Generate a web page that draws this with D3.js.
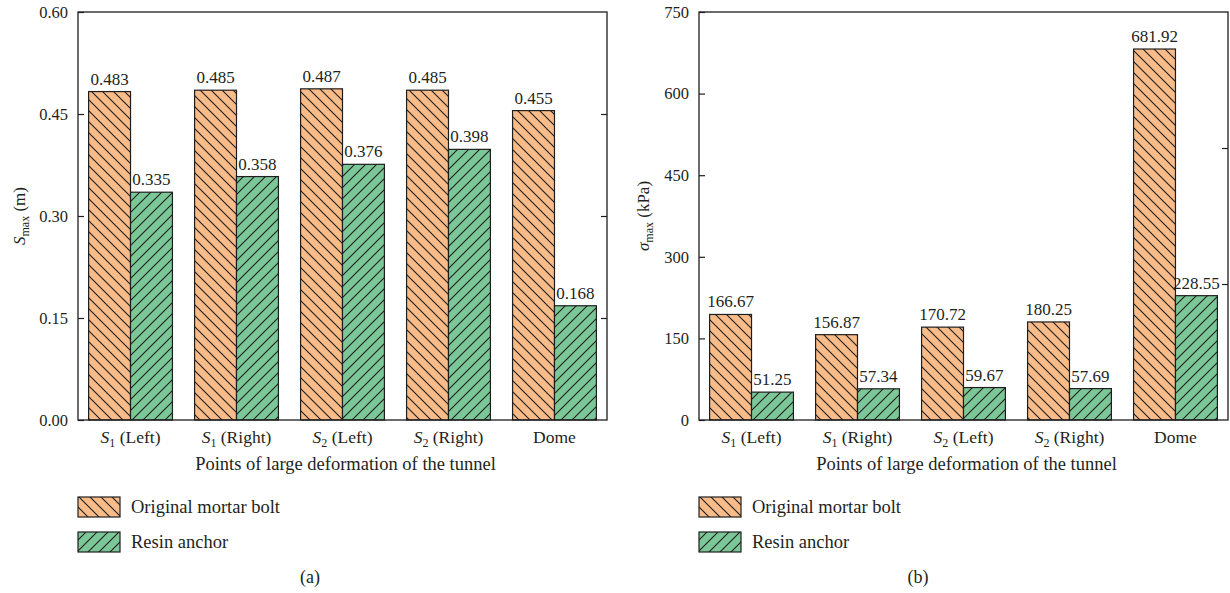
<!DOCTYPE html>
<html>
<head>
<meta charset="utf-8">
<script src="https://cdn.jsdelivr.net/npm/d3@7"></script>
<style>
body { margin: 0; background: #fff; }
text { font-family: "Liberation Serif", "DejaVu Serif", serif; fill: #231f20; }
</style>
</head>
<body>
<div id="chart"></div>
<script>
var categories = ["S1 (Left)", "S1 (Right)", "S2 (Left)", "S2 (Right)", "Dome"];
var seriesNames = ["Original mortar bolt", "Resin anchor"];

// (a) max displacement, m
var dispOriginal = [0.483, 0.485, 0.487, 0.485, 0.455];
var dispResin = [0.335, 0.358, 0.376, 0.398, 0.168];
var dispTicks = [0, 0.15, 0.30, 0.45, 0.60];
var dispRightTicks = [0.15, 0.30, 0.45];

// (b) max stress, kPa (first orange bar is drawn taller than its label says)
var stressOriginal = [194, 156.87, 170.72, 180.25, 681.92];
var stressResin = [51.25, 57.34, 59.67, 57.69, 228.55];
var stressOriginalLabels = ["166.67", "156.87", "170.72", "180.25", "681.92"];
var stressResinLabels = ["51.25", "57.34", "59.67", "57.69", "228.55"];
var stressTicks = [0, 150, 300, 450, 600, 750];
var stressRightTicks = [1, 2];   // mirrored axis split in thirds

var svgWidth = 1230;
var svgHeight = 593;
var width = 529;
var height = 408;
var colors = ["#f9bb88", "#7cc797"];

var svg = d3.select("#chart")
    .append("svg")
    .attr("width", svgWidth)
    .attr("height", svgHeight);

// hatch patterns
var defs = svg.append("defs");
var hatchPaths = ["M-3,-3 L14,14 M-3,8 L3,14 M8,-3 L14,3", "M-3,14 L14,-3 M-3,3 L3,-3 M8,14 L14,8"];
seriesNames.forEach(function (s, i) {
    var p = defs.append("pattern")
        .attr("id", "hatch" + i)
        .attr("patternUnits", "userSpaceOnUse")
        .attr("width", 11)
        .attr("height", 11);
    p.append("rect").attr("width", 11).attr("height", 11).attr("fill", colors[i]);
    p.append("path").attr("d", hatchPaths[i])
        .attr("stroke", "#1e1e1e").attr("stroke-width", 1.1).attr("fill", "none");
});

function drawPanel(opt) {
    var g = svg.append("g")
        .attr("transform", `translate(${opt.left}, 12)`);

    var x0 = d3.scaleBand()
        .domain(categories)
        .range([0, width])
        .paddingInner(0.209)
        .paddingOuter(0.1);
    var x1 = d3.scaleBand()
        .domain(seriesNames)
        .range([0, x0.bandwidth()]);
    var y = d3.scaleLinear()
        .domain(d3.extent(opt.ticks))
        .range([height, 0]);

    // bars
    [opt.original, opt.resin].forEach(function (vals, si) {
        var labels = opt.labels[si];
        var grp = g.append("g");
        grp.selectAll("rect")
            .data(vals)
            .enter()
            .append("rect")
            .attr("x", (d, i) => x0(categories[i]) + x1(seriesNames[si]))
            .attr("y", d => y(d))
            .attr("width", x1.bandwidth())
            .attr("height", d => height - y(d))
            .attr("fill", `url(#hatch${si})`)
            .attr("stroke", "#1e1e1e")
            .attr("stroke-width", 1.2);
        grp.selectAll("text")
            .data(vals)
            .enter()
            .append("text")
            .attr("x", (d, i) => x0(categories[i]) + x1(seriesNames[si]) + x1.bandwidth() / 2)
            .attr("y", d => y(d) - 7)
            .attr("text-anchor", "middle")
            .style("font-size", "17px")
            .text((d, i) => labels(d, i));
    });

    // left axis, ticks inside
    var leftAxis = d3.axisLeft(y)
        .tickValues(opt.ticks)
        .tickFormat(opt.tickFormat)
        .tickSizeInner(-6)
        .tickSizeOuter(0)
        .tickPadding(10);
    var ax = g.append("g").call(leftAxis);
    ax.select(".domain").remove();
    ax.selectAll("line").attr("stroke", "#1e1e1e").attr("stroke-width", 1.2);
    ax.selectAll("text").style("font-size", "16.5px").attr("fill", "#231f20")
        .style("font-family", '"Liberation Serif", serif');

    // right axis, ticks inside
    var yR = opt.rightDomain ? d3.scaleLinear().domain(opt.rightDomain).range([height, 0]) : y;
    var rightAxis = d3.axisRight(yR)
        .tickValues(opt.rightTicks)
        .tickFormat("")
        .tickSizeInner(-6)
        .tickSizeOuter(0);
    var rx = g.append("g")
        .attr("transform", `translate(${width}, 0)`)
        .call(rightAxis);
    rx.select(".domain").remove();
    rx.selectAll("line").attr("stroke", "#1e1e1e").attr("stroke-width", 1.2);

    // frame
    g.append("rect")
        .attr("width", width)
        .attr("height", height)
        .attr("fill", "none")
        .attr("stroke", "#1e1e1e")
        .attr("stroke-width", 1.3);

    // category labels
    categories.forEach(function (c) {
        var t = g.append("text")
            .attr("x", x0(c) + x0.bandwidth() / 2)
            .attr("y", height + 23)
            .attr("text-anchor", "middle")
            .style("font-size", "17.5px");
        var m = c.match(/^S(\d) (.*)$/);
        if (m) {
            t.append("tspan").style("font-style", "italic").text("S");
            t.append("tspan").attr("dy", 4).style("font-size", "12px").text(m[1]);
            t.append("tspan").attr("dy", -4).text(" " + m[2]);
        } else {
            t.text(c);
        }
    });

    // x axis title
    g.append("text")
        .attr("x", width / 2 + 3)
        .attr("y", height + 50)
        .attr("text-anchor", "middle")
        .style("font-size", "18.5px")
        .text("Points of large deformation of the tunnel");

    // y axis title
    var yt = g.append("text")
        .attr("transform", `translate(${opt.yTitleX}, ${height / 2}) rotate(-90)`)
        .attr("text-anchor", "middle")
        .style("font-size", "17px");
    yt.append("tspan").style("font-style", "italic").text(opt.yTitle[0]);
    yt.append("tspan").attr("dy", 4).style("font-size", "12px").text("max");
    yt.append("tspan").attr("dy", -4).text(opt.yTitle[1]);

    // legend
    seriesNames.forEach(function (s, i) {
        g.append("rect")
            .attr("x", 0)
            .attr("y", 485 + i * 35)
            .attr("width", 42)
            .attr("height", 20)
            .attr("fill", `url(#hatch${i})`)
            .attr("stroke", "#1e1e1e")
            .attr("stroke-width", 1.2);
        g.append("text")
            .attr("x", 53)
            .attr("y", 501 + i * 35)
            .style("font-size", "18.5px")
            .text(s);
    });

    // caption
    g.append("text")
        .attr("x", opt.captionX)
        .attr("y", 571)
        .attr("text-anchor", "middle")
        .style("font-size", "18px")
        .text(opt.caption);
}

drawPanel({
    left: 78,
    original: dispOriginal,
    resin: dispResin,
    labels: [d => d3.format(".3f")(d), d => d3.format(".3f")(d)],
    ticks: dispTicks,
    tickFormat: d3.format(".2f"),
    rightTicks: dispRightTicks,
    yTitle: ["S", " (m)"],
    yTitleX: -53,
    caption: "(a)",
    captionX: 232
});

drawPanel({
    left: 699,
    original: stressOriginal,
    resin: stressResin,
    labels: [(d, i) => stressOriginalLabels[i], (d, i) => stressResinLabels[i]],
    ticks: stressTicks,
    tickFormat: d3.format("d"),
    rightTicks: stressRightTicks,
    rightDomain: [0, 3],
    yTitle: ["\u03c3", " (kPa)"],
    yTitleX: -50,
    caption: "(b)",
    captionX: 219
});
</script>
</body>
</html>
